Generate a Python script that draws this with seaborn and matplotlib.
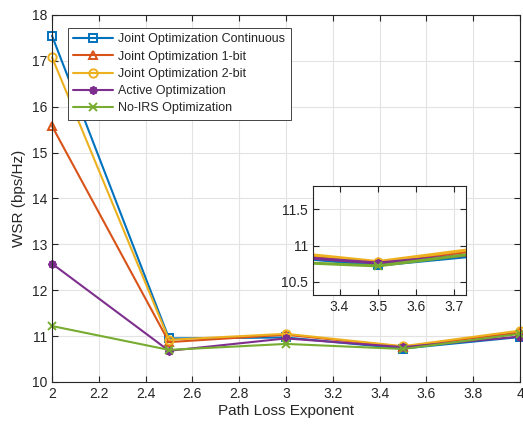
import matplotlib
matplotlib.use("Agg")
import matplotlib.pyplot as plt
import numpy as np
import pandas as pd
import seaborn as sns

# ── Data ──────────────────────────────────────────────────────────────────────

path_loss = [2.0, 2.5, 3.0, 3.5, 4.0]

wsr_continuous = [17.55, 10.95, 10.97, 10.73, 10.98]
wsr_1bit       = [15.58, 10.87, 11.03, 10.77, 11.08]
wsr_2bit       = [17.08, 10.92, 11.05, 10.78, 11.12]
wsr_active     = [12.58, 10.68, 10.95, 10.76, 10.99]
wsr_noirs      = [11.22, 10.70, 10.83, 10.72, 11.05]

labels = ["Joint Optimization Continuous", "Joint Optimization 1-bit",
          "Joint Optimization 2-bit", "Active Optimization", "No-IRS Optimization"]
series = [wsr_continuous, wsr_1bit, wsr_2bit, wsr_active, wsr_noirs]

colors  = ["#0072BD", "#D95319", "#EDB120", "#7E2F8E", "#77AC30"]
markers = ["s", "^", "o", (8, 2, 0), "x"]

# ── Style ─────────────────────────────────────────────────────────────────────

sns.set_style("ticks")
plt.rcParams["font.family"] = ["Liberation Sans", "DejaVu Sans"]
plt.rcParams["font.size"] = 10

frames = []
for lab, vals in zip(labels, series):
    frames.append(pd.DataFrame({"ple": path_loss, "wsr": vals, "scheme": lab}))
df = pd.concat(frames, ignore_index=True)


def draw(ax, lw=1.5, ms=6, clip=True):
    for lab, col, mk in zip(labels, colors, markers):
        sub = df[df["scheme"] == lab]
        filled = lab == "Active Optimization"
        sns.lineplot(data=sub, x="ple", y="wsr", ax=ax, color=col, lw=lw,
                     marker=mk, markersize=ms, markeredgewidth=1.4,
                     markerfacecolor=col if filled else "none",
                     markeredgecolor=col, label=lab, legend=False,
                     clip_on=clip)


def style_axes(ax):
    ax.grid(True, color="#e3e3e3", lw=0.8)
    ax.set_axisbelow(True)
    ax.tick_params(direction="in", top=True, right=True, length=4,
                   colors="#262626", labelsize=10)
    for sp in ax.spines.values():
        sp.set_color("#262626")
        sp.set_linewidth(0.8)
        sp.set_zorder(5)


fig = plt.figure(figsize=(5.23, 4.26), dpi=100)
ax = fig.add_axes([0.0994, 0.1033, 0.8949, 0.8615])
draw(ax, clip=False)
style_axes(ax)
ax.set_xlim(2, 4)
ax.set_ylim(10, 18)
ax.set_xticks(np.arange(2, 4.01, 0.2))
ax.set_xticklabels(["2", "2.2", "2.4", "2.6", "2.8", "3", "3.2", "3.4", "3.6", "3.8", "4"])
ax.set_yticks(range(10, 19))
ax.set_xlabel("Path Loss Exponent", fontsize=11, color="#262626", labelpad=2)
ax.set_ylabel("WSR (bps/Hz)", fontsize=11, color="#262626", labelpad=4)

handles, labs = ax.get_legend_handles_labels()
leg = ax.legend(handles, labs, loc="upper left", bbox_to_anchor=(0.02, 0.982),
                fontsize=9, handlelength=3.2, handletextpad=0.4, labelspacing=0.42,
                borderpad=0.45, fancybox=False, framealpha=1, edgecolor="#262626")
leg.get_frame().set_linewidth(0.6)
leg.set_zorder(10)

# ── Inset ─────────────────────────────────────────────────────────────────────

axin = fig.add_axes([0.598, 0.3075, 0.2925, 0.256])
draw(axin, lw=2.2, ms=6)
style_axes(axin)
axin.set_xlim(3.33, 3.73)
axin.set_ylim(10.32, 11.82)
axin.set_xticks([3.4, 3.5, 3.6, 3.7])
axin.set_yticks([10.5, 11, 11.5])
axin.set_yticklabels(["10.5", "11", "11.5"])
axin.set_xlabel("")
axin.set_ylabel("")

fig.savefig("out.png", dpi=100)
